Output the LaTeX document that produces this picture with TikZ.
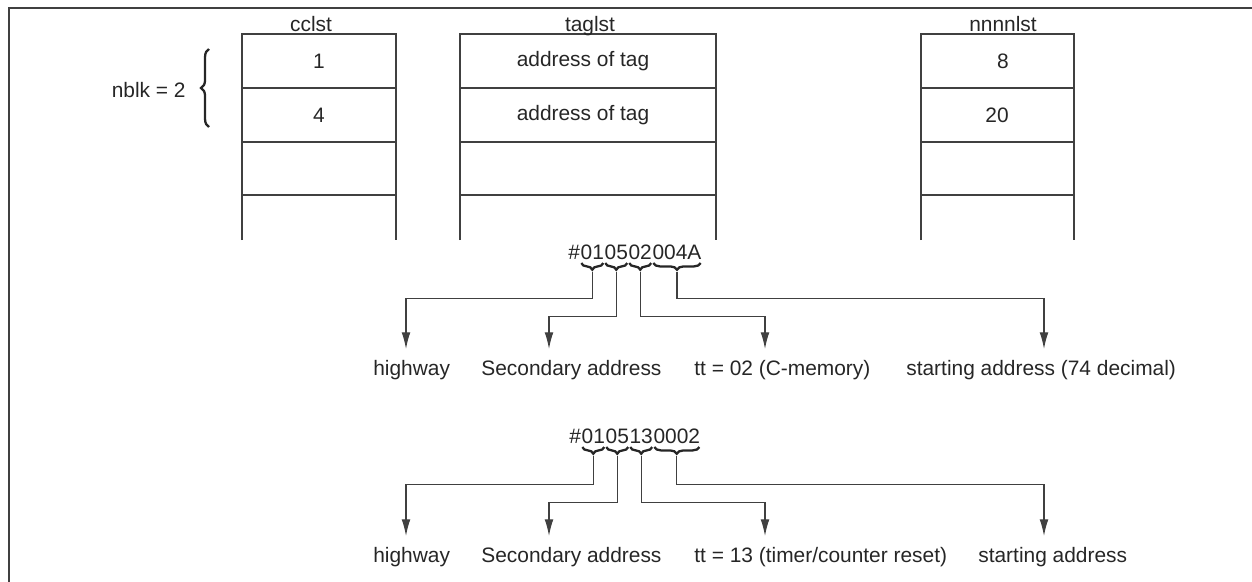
\documentclass[tikz,border=0pt]{standalone}
\usepackage{fontspec}
\setmainfont{Liberation Sans}
\usetikzlibrary{calc}
\usetikzlibrary{positioning}
\usetikzlibrary{arrows.meta}
\usetikzlibrary{decorations.pathreplacing}

\tikzset{
  txt/.style={font=\fontsize{11.9}{14}\selectfont, text=black!85, inner sep=0pt},
  dig/.style={txt, anchor=base west},
  ln/.style={draw=black!75, line width=0.7pt},
  arr/.style={ln, -{Latex[length=9.5pt,width=5pt]}},
  brc/.style={draw=black!85, line width=1.3pt, decorate, decoration={brace, amplitude=3.8pt}},
}

\begin{document}
\begin{tikzpicture}[x=0.02cm, y=-0.02cm]
    \useasboundingbox (0,0) rectangle (1252,582);
    \draw[ln, line width=0.9pt] (9,582) -- (9,8) -- (1252,8);

    % the three lists
    \foreach \name/\xl/\xr/\xt/\lbl in {cc/242/396/311/cclst, tag/460/716/590/taglst, nn/921/1074/1003/nnnnlst} {
        \draw[ln] (\xl,240) -- (\xl,34) -- (\xr,34) -- (\xr,240);
        \foreach \y in {88,142,195} \draw[ln] (\xl,\y) -- (\xr,\y);
        \node[txt, anchor=base] (\name) at (\xt,31) {\lbl};
    }
    \node[txt] (cc1) at (319,61) {1};
    \node[txt] (cc2) at (319,115) {4};
    \node[txt] (tag1) at (583,61) {address of tag};
    \node[txt] (tag2) at (583,115) {address of tag};
    \node[txt] (nn1) at (1003,61) {8};
    \node[txt] (nn2) at (997,115) {20};

    \node[txt, anchor=east] (nblk) at (186,90) {nblk = 2};
    \draw[brc, decoration={amplitude=4.5pt}] (209,127) -- (209,49);

    % first tag address
    \node[dig] (a0) at (568,259) {\#};
    \node[dig] (a1) at (a0.base east) {01};
    \node[dig] (a2) at (a1.base east) {05};
    \node[dig] (a3) at (a2.base east) {02};
    \node[dig] (a4) at (a3.base east) {004A};
    \foreach \g in {a1,a2,a3,a4} {
        \draw[brc, decoration={mirror}] ($(\g.south west)+(1,3.5)$) -- ($(\g.south east)+(-1,3.5)$);
        \coordinate (\g t) at ($(\g.south)+(0,12)$);
    }
    \coordinate (ea1) at (406,349);
    \coordinate (ea2) at (549,349);
    \coordinate (ea3) at (765,349);
    \coordinate (ea4) at (1044,349);
    \draw[arr] (a1t) -- ++(0,27) -| (ea1);
    \draw[arr] (a2t) -- ++(0,45) -| (ea2);
    \draw[arr] (a3t) -- ++(0,45) -| (ea3);
    \draw[arr] (a4t) -- ++(0,27) -| (ea4);
    \node[dig] (la1) at (373,375) {highway};
    \node[dig] (la2) at (481,375) {Secondary address};
    \node[dig] (la3) at (694,375) {tt = 02 (C-memory)};
    \node[dig] (la4) at (906,375) {starting address (74 decimal)};

    % second tag address
    \node[dig] (b0) at (569,443) {\#};
    \node[dig] (b1) at (b0.base east) {01};
    \node[dig] (b2) at (b1.base east) {05};
    \node[dig] (b3) at (b2.base east) {13};
    \node[dig] (b4) at (b3.base east) {0002};
    \foreach \g in {b1,b2,b3,b4} {
        \draw[brc, decoration={mirror}] ($(\g.south west)+(1,3.5)$) -- ($(\g.south east)+(-1,3.5)$);
        \coordinate (\g t) at ($(\g.south)+(0,12)$);
    }
    \coordinate (eb1) at (406,536);
    \coordinate (eb2) at (549,536);
    \coordinate (eb3) at (765,536);
    \coordinate (eb4) at (1044,536);
    \draw[arr] (b1t) -- ++(0,29) -| (eb1);
    \draw[arr] (b2t) -- ++(0,47) -| (eb2);
    \draw[arr] (b3t) -- ++(0,47) -| (eb3);
    \draw[arr] (b4t) -- ++(0,29) -| (eb4);
    \node[dig] (lb1) at (373,562) {highway};
    \node[dig] (lb2) at (481,562) {Secondary address};
    \node[dig] (lb3) at (694,562) {tt = 13 (timer/counter reset)};
    \node[dig] (lb4) at (978,562) {starting address};
\end{tikzpicture}
\end{document}
